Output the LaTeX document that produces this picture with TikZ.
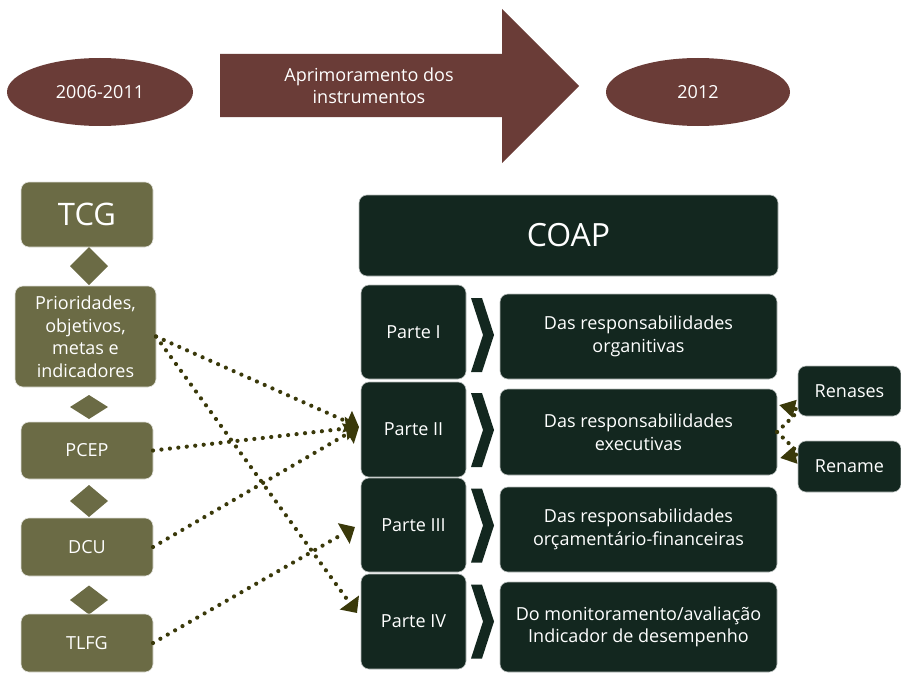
\documentclass[tikz,border=0pt]{standalone}
\usepackage{fontspec}
\setmainfont{Open Sans}
\usetikzlibrary{arrows.meta,shapes.geometric}
\definecolor{brn}{HTML}{6A3C37}
\definecolor{olv}{HTML}{6B6B45}
\definecolor{drk}{HTML}{13271F}
\definecolor{dotc}{HTML}{3A390A}
\tikzset{
  txt/.style={text=white, font=\fontsize{18}{22.5}\selectfont, align=center},
  obox/.style={txt, fill=olv, rounded corners=8pt, draw=white!80!olv, line width=0.6pt, inner sep=0pt, outer sep=0pt},
  dbox/.style={txt, fill=drk, rounded corners=8pt, draw=white!70!drk, line width=0.6pt, inner sep=0pt, outer sep=0pt},
  diam/.style={diamond, fill=olv, inner sep=0pt, outer sep=0pt, minimum width=38pt},
  ell/.style={txt, ellipse, fill=brn, inner sep=0pt, minimum width=186pt, minimum height=68pt},
  dotline/.style={draw=dotc, line width=4.2pt, line cap=round, dash pattern=on 0pt off 8.5pt,
     -{Triangle[length=13pt,width=23pt,fill=dotc]}},
  sideline/.style={draw=dotc, line width=4.2pt, line cap=round, dash pattern=on 0pt off 8pt,
     -{Triangle[length=16pt,width=17pt,fill=dotc]}},
  chev/.pic={\fill[drk] (-11.5,-37) -- (-0.5,-37) -- (11.5,0) -- (-0.5,37) -- (-11.5,37) -- (0.5,0) -- cycle;}
}
\begin{document}
\begin{tikzpicture}[x=1pt,y=-1pt]
\useasboundingbox (0,0) rectangle (901,674);
% top row
\node[ell] (e1) at (100,92) {2006-2011};
\node[ell, minimum width=184pt] (e2) at (698,92) {2012};
\fill[brn] (220,54) -- (502,54) -- (502,9) -- (579,86) -- (502,163) -- (502,117) -- (220,117) -- cycle;
\node[txt] (arr) at (369,86) {Aprimoramento dos\\instrumentos};
% left column
\node[obox, minimum width=132pt, minimum height=65pt, font=\fontsize{31}{34}\selectfont] (tcg) at (87,214.5) {TCG};
\node[diam, minimum height=38pt] (d1) at (89,266) {};
\node[obox, minimum width=141pt, minimum height=101pt] (prio) at (85.5,336.5) {Prioridades,\\objetivos,\\metas e\\indicadores};
\node[diam, minimum height=24pt] (d2) at (89,407) {};
\node[obox, minimum width=132pt, minimum height=57pt] (pcep) at (87,450.5) {PCEP};
\node[diam, minimum height=32pt] (d3) at (89,501) {};
\node[obox, minimum width=132pt, minimum height=58pt] (dcu) at (87,547) {DCU};
\node[diam, minimum height=29pt] (d4) at (89,600) {};
\node[obox, minimum width=132pt, minimum height=58pt] (tlfg) at (87,643) {TLFG};
% COAP
\node[dbox, minimum width=419pt, minimum height=81pt, font=\fontsize{32}{36}\selectfont] (coap) at (568.5,235.5) {COAP};
\node[dbox, minimum width=105pt, minimum height=94pt] (p1) at (413.5,332) {Parte I};
\node[dbox, minimum width=105pt, minimum height=95pt] (p2) at (413.5,429.5) {Parte II};
\node[dbox, minimum width=105pt, minimum height=94pt] (p3) at (413.5,525) {Parte III};
\node[dbox, minimum width=105pt, minimum height=95pt] (p4) at (413.5,621.5) {Parte IV};
\node[dbox, minimum width=277pt, minimum height=85pt] (r1) at (638.5,336.5) {Das responsabilidades\\organitivas};
\node[dbox, minimum width=277pt, minimum height=86pt] (r2) at (638.5,432) {Das responsabilidades\\executivas};
\node[dbox, minimum width=277pt, minimum height=85pt] (r3) at (638.5,529.5) {Das responsabilidades\\orçamentário-financeiras};
\node[dbox, minimum width=277pt, minimum height=90pt] (r4) at (638.5,627) {Do monitoramento/avaliação\\Indicador de desempenho};
\pic at (482.5,335) {chev};
\pic at (482.5,430) {chev};
\pic at (482.5,525.5) {chev};
\pic at (482.5,621.5) {chev};
\node[dbox, minimum width=103pt, minimum height=50pt] (ren1) at (849.5,391) {Renases};
\node[dbox, minimum width=103pt, minimum height=51pt] (ren2) at (849.5,466.5) {Rename};
% connectors
\draw[dotline] (prio.east) -- ([shift={(-2,-2.5)}]p2.west);
\draw[dotline] (prio.east) -- ([shift={(-4,-8.5)}]p4.west);
\draw[dotline] (pcep.east) -- ([shift={(-2,-2.5)}]p2.west);
\draw[dotline] (dcu.east) -- ([shift={(-2,-2.5)}]p2.west);
\draw[dotline] (tlfg.east) -- ([shift={(-6,2)}]p3.west);
\coordinate (ca) at (779,405);
\coordinate (cb) at (780,458);
\draw[sideline] (r2.east) .. controls (800,410) .. (ca);
\draw[sideline] (r2.east) .. controls (800,454) .. (cb);
\end{tikzpicture}
\end{document}
